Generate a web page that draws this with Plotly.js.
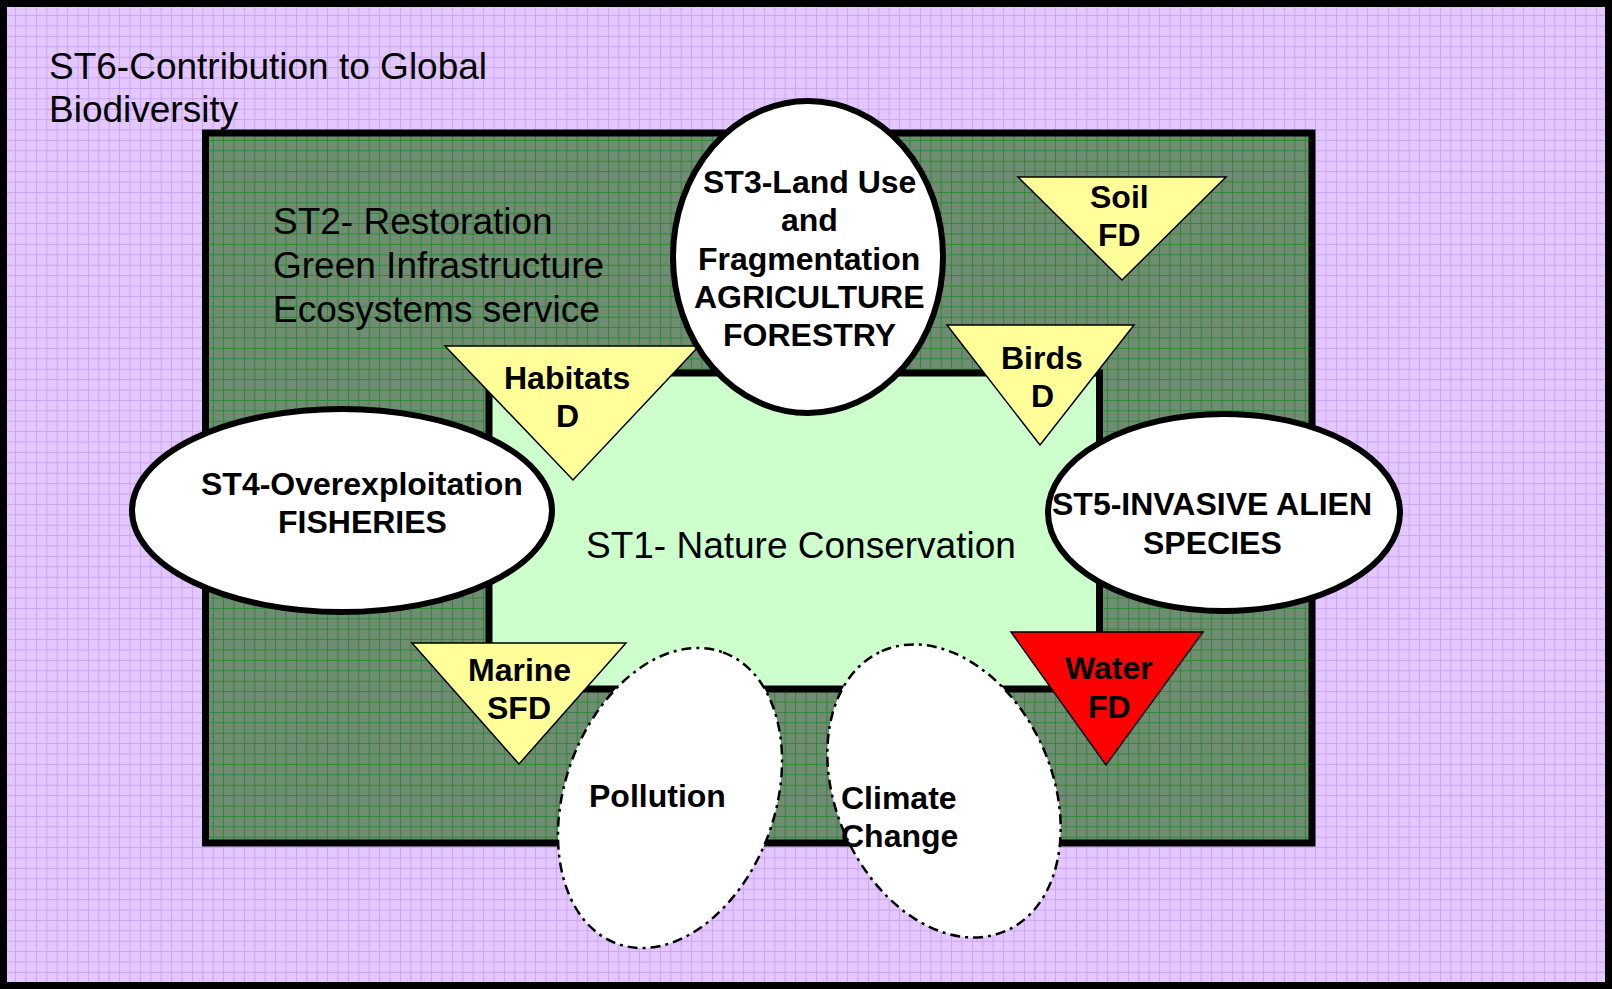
<!DOCTYPE html>
<html>
<head>
<meta charset="utf-8">
<script src="https://cdn.plot.ly/plotly-3.0.1.min.js"></script>
<style>html,body{margin:0;padding:0;background:#fff;}#chart{width:1612px;height:989px;}</style>
</head>
<body>
<div id="chart"></div>
<script>
// ---- text content (data) ----
const st6Lines = ["ST6-Contribution to Global", "Biodiversity"];
const st2Lines = ["ST2- Restoration", "Green Infrastructure", "Ecosystems service"];
const st1Lines = ["ST1- Nature Conservation"];
const st3Lines = ["ST3-Land Use", "and", "Fragmentation", "AGRICULTURE", "FORESTRY"];
const st4Lines = ["ST4-Overexploitation", "FISHERIES"];
const st5Lines = ["ST5-INVASIVE ALIEN", "SPECIES"];
const triangleNames = ["Habitats", "Soil", "Birds", "Marine", "Water"];
const triangleCodes = ["D", "FD", "D", "SFD", "FD"];
const pressureLines = [["Pollution"], ["Climate", "Change"]];

// ---- geometry / layout (pixel space, y down) ----
const W = 1612, H = 989;
const greenBox = {x0: 205.5, x1: 1312, y0: 133, y1: 843};
const natureBox = {x0: 489, x1: 1099.5, y0: 373, y1: 689};
const ovals = [ // ST3, ST4, ST5
  {cx: 808, cy: 257, rx: 135, ry: 156},
  {cx: 342, cy: 510.5, rx: 210, ry: 101.5},
  {cx: 1224, cy: 512.5, rx: 176, ry: 98.5}
];
const triGeom = [ // left x, right x, top y, apex x, apex y
  [445, 699, 346, 573, 480],
  [1018, 1226, 177, 1122, 280],
  [947, 1134, 325, 1040, 445],
  [412, 626, 643, 519, 764],
  [1011, 1203, 632, 1106, 765]
];
const triColors = ["#FFFF99", "#FFFF99", "#FFFF99", "#FFFF99", "#FF0000"];
const triText = [[567, 378, 416], [1119, 197, 235], [1042, 358, 396], [519, 670, 708], [1109, 668, 707]];
const tilted = [ // cx, cy, semi-major a, semi-minor b, tilt deg (+ = top leans right)
  [670, 798, 155, 105, 20],
  [944, 791, 153, 108, -24]
];
const pressureText = [[657, [796]], [899, [798, 836]]];

const FONT = "Liberation Sans, Arial, Helvetica, sans-serif";

function ellipsePath(cx, cy, a, b, deg) {
  const t = deg * Math.PI / 180;
  const u = [Math.sin(t) * a, -Math.cos(t) * a];
  const v = [Math.cos(t) * b, Math.sin(t) * b];
  const k = 0.5523;
  const P = (cu, cv) => [cx + cu * u[0] + cv * v[0], cy + cu * u[1] + cv * v[1]];
  const f = p => p[0].toFixed(2) + "," + p[1].toFixed(2);
  const quads = [[1, 0], [0, 1], [-1, 0], [0, -1], [1, 0]];
  let d = "M" + f(P(1, 0));
  for (let i = 0; i < 4; i++) {
    const s = quads[i], e = quads[i + 1];
    const c1 = P(s[0] + k * e[0], s[1] + k * e[1]);
    const c2 = P(e[0] + k * s[0], e[1] + k * s[1]);
    d += " C" + f(c1) + " " + f(c2) + " " + f(P(e[0], e[1]));
  }
  return d + " Z";
}

const traces = [
  { // ST6 background
    x: [0, W, W, 0, 0], y: [0, 0, H, H, 0], mode: "lines", fill: "toself",
    line: {width: 0, color: "rgba(0,0,0,0)"}, fillcolor: "#E2C8FF",
    fillpattern: {shape: "+", bgcolor: "#E2C8FF", fgcolor: "#CCA2F6", size: 10.4, solidity: 0.18},
    hoverinfo: "skip", showlegend: false
  },
  { // ST2 box
    x: [greenBox.x0, greenBox.x1, greenBox.x1, greenBox.x0, greenBox.x0],
    y: [greenBox.y0, greenBox.y0, greenBox.y1, greenBox.y1, greenBox.y0],
    mode: "lines", fill: "toself", line: {width: 0, color: "rgba(0,0,0,0)"},
    fillcolor: "#6E8C71",
    fillpattern: {shape: "+", bgcolor: "#708C73", fgcolor: "#2A8A30", size: 10.4, solidity: 0.18},
    hoverinfo: "skip", showlegend: false
  }
];

const shapes = [];
shapes.push({type: "rect", xref: "x", yref: "y", x0: greenBox.x0, x1: greenBox.x1, y0: greenBox.y0, y1: greenBox.y1,
  line: {color: "#000", width: 7}, fillcolor: "rgba(0,0,0,0)", layer: "above"});
shapes.push({type: "rect", xref: "x", yref: "y", x0: natureBox.x0, x1: natureBox.x1, y0: natureBox.y0, y1: natureBox.y1,
  line: {color: "#000", width: 7}, fillcolor: "#CCFFCC", layer: "above"});
triGeom.forEach((g, i) => {
  shapes.push({type: "path", xref: "x", yref: "y",
    path: "M" + g[0] + "," + g[2] + " L" + g[1] + "," + g[2] + " L" + g[3] + "," + g[4] + " Z",
    fillcolor: triColors[i], line: {color: "#000", width: 1.5}, layer: "above"});
});
ovals.forEach(o => {
  shapes.push({type: "circle", xref: "x", yref: "y", x0: o.cx - o.rx, x1: o.cx + o.rx, y0: o.cy - o.ry, y1: o.cy + o.ry,
    fillcolor: "#FFFFFF", line: {color: "#000", width: 6}, layer: "above"});
});
tilted.forEach(t => {
  shapes.push({type: "path", xref: "x", yref: "y", path: ellipsePath(t[0], t[1], t[2], t[3], t[4]),
    fillcolor: "#FFFFFF", line: {color: "#000", width: 2.5, dash: "10px,5px,3px,5px"}, layer: "above"});
});
shapes.push({type: "rect", xref: "x", yref: "y", x0: 3.5, x1: W - 3.5, y0: 3.5, y1: H - 3.5,
  line: {color: "#000", width: 7}, fillcolor: "rgba(0,0,0,0)", layer: "above"});

const annotations = [];
function addText(text, x, y, size, bold, anchor) {
  annotations.push({xref: "x", yref: "y", x: x, y: y, text: bold ? "<b>" + text + "</b>" : text,
    showarrow: false, xanchor: anchor || "center", yanchor: "middle",
    font: {family: FONT, size: size, color: "#000"}});
}
const st6Y = [66, 109];
st6Lines.forEach((s, i) => addText(s, 47, st6Y[i], 37, false, "left"));
const st2Y = [221, 265, 309];
st2Lines.forEach((s, i) => addText(s, 271, st2Y[i], 37, false, "left"));
addText(st1Lines[0], 801, 545, 37, false);
const st3Y = [182, 220, 259, 297, 335];
st3Lines.forEach((s, i) => addText(s, 809, st3Y[i], 32, true));
const st4Y = [484, 522];
st4Lines.forEach((s, i) => addText(s, 362, st4Y[i], 32, true));
const st5Y = [504, 543];
st5Lines.forEach((s, i) => addText(s, 1212, st5Y[i], 32, true));
triangleNames.forEach((n, i) => {
  addText(n, triText[i][0], triText[i][1], 32, true);
  addText(triangleCodes[i], triText[i][0], triText[i][2], 32, true);
});
pressureLines.forEach((lines, i) => {
  lines.forEach((s, j) => addText(s, pressureText[i][0], pressureText[i][1][j], 32, true));
});

const layout = {
  width: W, height: H, margin: {l: 0, r: 0, t: 0, b: 0, pad: 0},
  paper_bgcolor: "#E2C8FF", plot_bgcolor: "#E2C8FF",
  xaxis: {range: [0, W], visible: false, fixedrange: true},
  yaxis: {range: [H, 0], visible: false, fixedrange: true},
  shapes: shapes, annotations: annotations, showlegend: false, hovermode: false
};
Plotly.newPlot("chart", traces, layout, {staticPlot: true, displayModeBar: false});
</script>
</body>
</html>
